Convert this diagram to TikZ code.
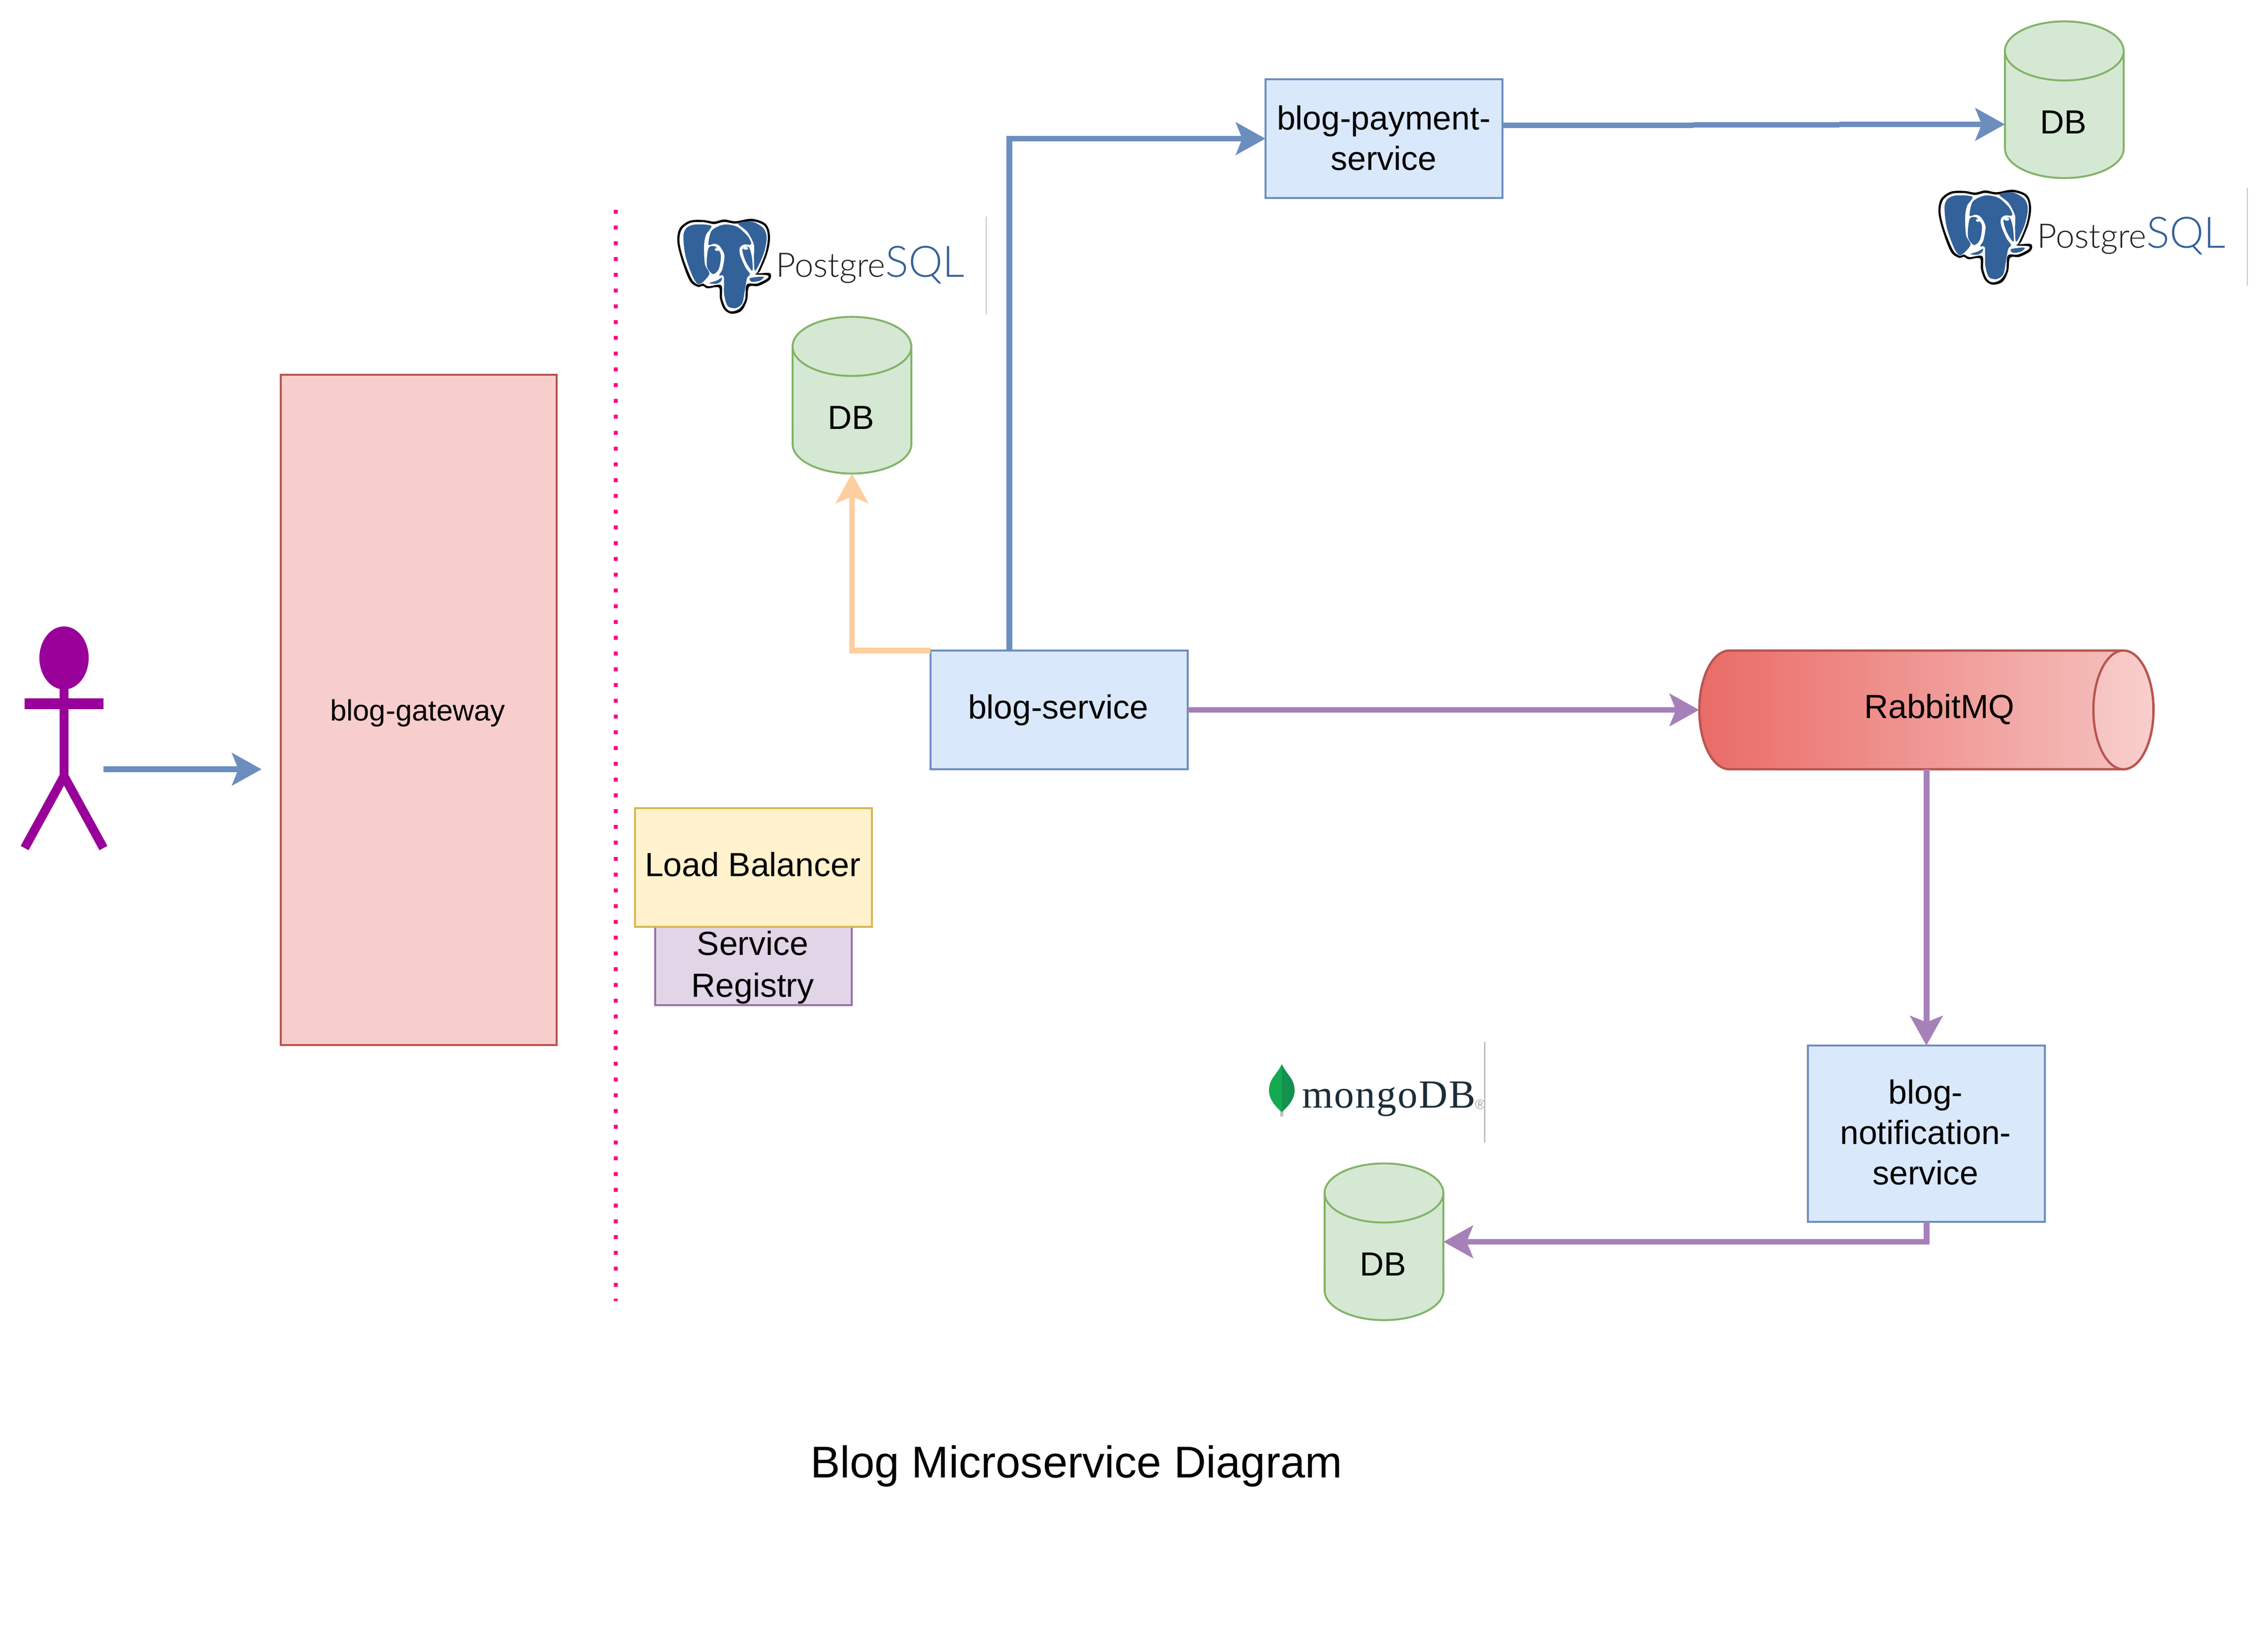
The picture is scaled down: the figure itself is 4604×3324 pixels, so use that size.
\documentclass[tikz,border=0pt]{standalone}
\usepackage{fontspec}
\setmainfont{Liberation Sans}
\newfontfamily\serifface{Liberation Serif}[LetterSpace=3]
\newfontfamily\thinface{Lato Light}
\usetikzlibrary{arrows.meta,calc}
\definecolor{blueline}{HTML}{6C8EBF}
\definecolor{bluefill}{HTML}{DAE8FC}
\definecolor{greenline}{HTML}{82B366}
\definecolor{greenfill}{HTML}{D5E8D4}
\definecolor{redline}{HTML}{B85450}
\definecolor{redfill}{HTML}{F8CECC}
\definecolor{redstart}{HTML}{EA6B66}
\definecolor{redmid}{HTML}{F6C4C2}
\definecolor{purpleline}{HTML}{A680B8}
\definecolor{orangeline}{HTML}{FFCE9F}
\definecolor{yellowfill}{HTML}{FFF2CC}
\definecolor{yellowline}{HTML}{D6B656}
\definecolor{lilacfill}{HTML}{E1D5E7}
\definecolor{lilacline}{HTML}{9673A6}
\definecolor{actorcol}{HTML}{990099}
\definecolor{pinkdot}{HTML}{FF0080}
\definecolor{pgblue}{HTML}{336199}
\definecolor{pgtext}{HTML}{222222}
\definecolor{mongotext}{HTML}{1C2D38}
\definecolor{leafa}{HTML}{13AA52}
\definecolor{leafb}{HTML}{13924F}
\tikzset{
  conn/.style={line width=3.4pt,-{Stealth[length=17pt,width=18.6pt,inset=3.6pt]}},
  plainconn/.style={line width=3.4pt},
  svcbox/.style={draw=blueline,fill=bluefill,line width=1.1pt,inner sep=0pt,outer sep=0pt},
  lbbox/.style={draw=yellowline,fill=yellowfill,line width=1.1pt,inner sep=0pt,outer sep=0pt},
  regbox/.style={draw=lilacline,fill=lilacfill,line width=1.1pt,inner sep=0pt,outer sep=0pt},
  gatebox/.style={draw=redline,fill=redfill,line width=1.1pt,inner sep=0pt,outer sep=0pt},
  cylframe/.style={inner sep=0pt,outer sep=0pt,minimum width=2.41cm,minimum height=3.18cm},
  cylbody/.style={draw=greenline,fill=greenfill,line width=1.1pt},
  plainlabel/.style={inner sep=0pt,align=center,font=\fontsize{19.3}{23.3}\selectfont},
  blob/.style={fill=pgblue},
}
% name, centre x, top y
\newcommand{\dbcyl}[3]{%
  \node[cylframe] (#1) at (#2,#3+159.5) {};
  \path[cylbody] ($(#1.north west)+(0,60)$) arc[start angle=180,end angle=360,x radius=120.5,y radius=60]
     -- ($(#1.south east)+(0,-60)$) arc[start angle=0,end angle=180,x radius=120.5,y radius=60] -- cycle;
  \path[cylbody,fill=none] ($(#1.north west)+(0,60)$) arc[start angle=180,end angle=0,x radius=120.5,y radius=60];
  \node[plainlabel] (#1label) at (#2-2,#3+205) {DB};
}
% name, shift x, shift y : PostgreSQL logo
\newcommand{\pglogo}[3]{%
  \begin{scope}[shift={(1370+#2,440+#3)},x=0.003333cm,y=-0.003333cm]
    \fill[black,line join=round] plot[smooth cycle,tension=0.55] coordinates {(240,30)(300,17)(370,28)(470,13)(555,45)(580,120)(565,220)(520,330)(505,345)(580,345)(578,385)(510,422)(452,428)(440,510)(405,575)(345,592)(300,565)(275,500)(268,432)(200,437)(170,422)(140,428)(90,390)(40,260)(15,150)(30,70)(90,25)(170,20)};
    \fill[white] plot[smooth cycle,tension=0.55] coordinates {(240,45)(300,32)(370,42)(470,28)(545,55)(567,120)(552,220)(505,335)(490,352)(565,358)(562,378)(500,408)(438,414)(428,505)(395,560)(345,578)(310,555)(288,495)(282,418)(205,424)(172,408)(142,414)(103,380)(52,255)(28,150)(42,78)(95,38)(170,33)};
    \fill[blob] plot[smooth cycle,tension=0.5] coordinates {(52,115)(75,65)(130,47)(222,56)(190,110)(178,175)(183,290)(210,350)(150,412)(112,372)(65,240)};
    \fill[blob] plot[smooth cycle,tension=0.5] coordinates {(205,170)(225,85)(300,48)(380,62)(445,120)(465,168)(420,170)(396,190)(398,235)(430,310)(458,350)(440,375)(425,460)(410,530)(370,558)(322,545)(300,470)(298,365)(270,358)(290,320)(302,235)(272,178)(240,165)};
    \fill[blob] plot[smooth cycle,tension=0.5] coordinates {(205,192)(245,182)(280,232)(268,318)(232,350)(195,300)};
    \fill[blob] plot[smooth cycle,tension=0.5] coordinates {(412,200)(450,185)(470,250)(472,330)(432,272)};
    \fill[blob] plot[smooth cycle,tension=0.5] coordinates {(385,40)(470,30)(540,70)(560,130)(540,230)(490,330)(482,250)(482,170)(442,92)};
    \fill[blob] plot[smooth cycle,tension=0.5] coordinates {(210,405)(255,390)(287,372)(280,395)(250,410)};
    \fill[blob] plot[smooth cycle,tension=0.5] coordinates {(458,375)(540,366)(520,390)(470,398)};
    \fill[white] (258,200) ellipse[x radius=15,y radius=9];
    \fill[white] (432,193) ellipse[x radius=15,y radius=9];
  \end{scope}
  \node[anchor=base west,inner sep=0pt,text=pgtext,font=\thinface\fontsize{19.5}{24}\selectfont] (#1text) at (1575+#2,562+#3) {Postgre\textcolor{pgblue}{\fontsize{25}{25}\selectfont SQL}};
  \draw[black!22,line width=0.4pt] (2002+#2,440+#3) -- (2002+#2,639+#3);
}
\begin{document}
\begin{tikzpicture}[x=0.01cm,y=-0.01cm]
\useasboundingbox (0,0) rectangle (4604,3324);
\fill[white] (0,0) rectangle (4604,3324);

% actor
\fill[actorcol] (130,1336) ellipse[x radius=50,y radius=64];
\draw[actorcol,line width=5.4pt] (130,1395) -- (130,1578);
\draw[actorcol,line width=6pt] (50,1429) -- (210,1429);
\draw[actorcol,line width=5.2pt,line join=miter] (50,1722) -- (130,1576) -- (210,1722);
\coordinate (userhand) at (210,1562);

% gateway
\node[gatebox,minimum width=5.6cm,minimum height=13.6cm] (gateway) at (850,1441.5) {};
\node[plainlabel,font=\fontsize{17}{20}\selectfont] (gatewaylabel) at (848,1448) {blog-gateway};
\coordinate (gatewayin) at (531,1562);

% dotted separator
\coordinate (septop) at (1250,426);
\coordinate (sepbot) at (1250,2642);
\draw[pinkdot,line width=2.28pt,dash pattern=on 2.28pt off 6.83pt] (septop) -- (sepbot);

% logos
\pglogo{pgone}{0}{0}
\pglogo{pgtwo}{2560}{-59}

% databases
\dbcyl{dbone}{1729.5}{643}
\dbcyl{dbtwo}{4190.5}{43}
\dbcyl{dbthree}{2809.5}{2362}

% services
\node[svcbox,minimum width=5.22cm,minimum height=2.41cm] (blogsvc) at (2150,1441.5) {};
\node[plainlabel] (blogsvclabel) at (2148,1442) {blog-service};
\node[svcbox,minimum width=4.81cm,minimum height=2.41cm] (payment) at (2809.5,281.5) {};
\node[plainlabel] (paymentlabel) at (2809,280) {blog-payment-\\service};
\node[svcbox,minimum width=4.81cm,minimum height=3.58cm] (notif) at (3910.5,2302) {};
\node[plainlabel] (notiflabel) at (3909,2299) {blog-\\notification-\\service};
\node[regbox,minimum width=3.99cm,minimum height=1.59cm] (registry) at (1529.5,1961.5) {};
\node[plainlabel,font=\fontsize{19.3}{24.2}\selectfont] (registrylabel) at (1528,1964) {Service\\Registry};
\node[lbbox,minimum width=4.81cm,minimum height=2.41cm] (lb) at (1529.5,1761.5) {};
\node[plainlabel] (lblabel) at (1528,1755) {Load Balancer};

% RabbitMQ
\node[inner sep=0pt,outer sep=0pt,minimum width=9.22cm,minimum height=2.41cm] (rabbit) at (3910.5,1441.5) {};
\path[draw=redline,line width=1.3pt,left color=redstart,right color=redmid]
  (3449.5,1441.5) arc[start angle=180,end angle=270,x radius=61,y radius=120.5]
  -- (4310.5,1321) arc[start angle=270,end angle=450,x radius=61,y radius=120.5]
  -- (3510.5,1562) arc[start angle=90,end angle=180,x radius=61,y radius=120.5] -- cycle;
\path[draw=redline,line width=1.3pt,left color=redmid,right color=redfill] (4310.5,1441.5) ellipse[x radius=61,y radius=120.5];
\node[plainlabel] (rabbitlabel) at (3937,1440) {RabbitMQ};

% mongoDB logo
\fill[black!25] (2599,2235) rectangle (2605,2267);
\fill[leafa] (2602,2161) .. controls (2590,2185) and (2576,2190) .. (2576,2215) .. controls (2576,2232) and (2590,2248) .. (2602,2258) -- cycle;
\fill[leafb] (2602,2161) .. controls (2614,2185) and (2628,2190) .. (2628,2215) .. controls (2628,2232) and (2614,2248) .. (2602,2258) -- cycle;
\node[anchor=base west,inner sep=0pt,text=mongotext,font=\serifface\fontsize{23}{27}\selectfont] (mongotext) at (2643,2249) {mongoDB};
\node[inner sep=0pt,text=black!35,font=\fontsize{8}{9}\selectfont] (mongomark) at (3005,2243) {®};
\draw[black!35,line width=0.4pt] (3014,2116) -- (3014,2320);

% title
\node[inner sep=0pt,font=\fontsize{25.7}{30}\selectfont] (title) at (2185,2977) {Blog Microservice Diagram};

% connectors
\draw[conn,draw=blueline] (userhand) -- (gatewayin);
\draw[conn,draw=orangeline] (blogsvc.north west) -| (dbone.south);
\coordinate (svctop) at (2049,1321);
\draw[conn,draw=blueline] (svctop) |- (payment.west);
\coordinate (payone) at (payment.east |- 0,254.5);
\coordinate (jogone) at (3438,254.5);
\coordinate (jogtwoa) at (3438,253.5);
\coordinate (jogtwob) at (3734,253.5);
\coordinate (jogthree) at (3734,252.5);
\coordinate (dbtwoin) at (dbtwo.west |- 0,252.5);
\draw[plainconn,draw=blueline] (payone) -- (jogone);
\draw[plainconn,draw=blueline] (jogtwoa) -- (jogtwob);
\draw[conn,draw=blueline] (jogthree) -- (dbtwoin);
\draw[conn,draw=purpleline] (blogsvc.east) -- (rabbit.west);
\draw[conn,draw=purpleline] (rabbit.south) -- (notif.north);
\draw[conn,draw=purpleline] (notif.south) |- (dbthree.east);
\end{tikzpicture}
\end{document}
